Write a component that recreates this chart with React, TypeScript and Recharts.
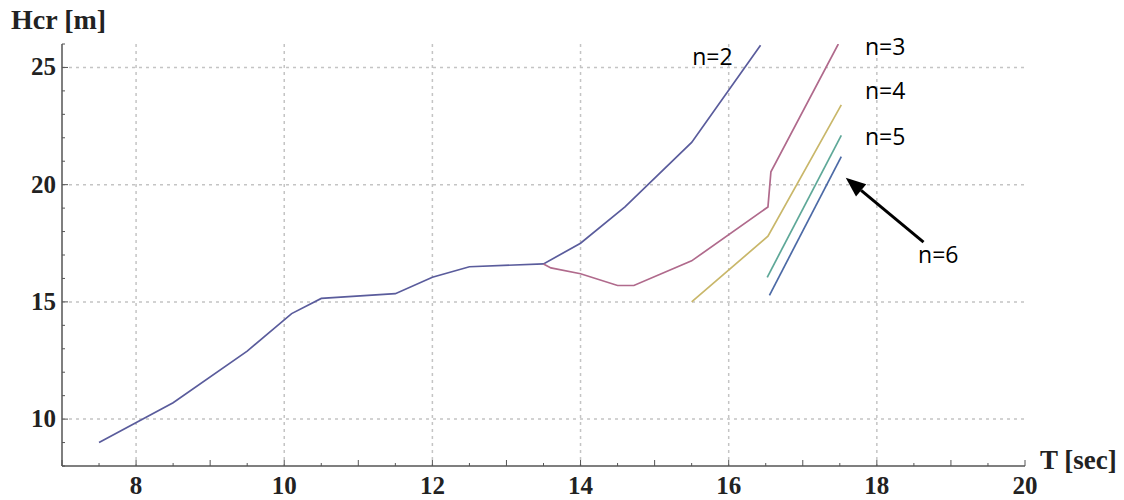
import {
  LineChart,
  Line,
  XAxis,
  YAxis,
  CartesianGrid,
  ReferenceDot,
  ReferenceLine,
} from "recharts";

// critical height vs period, one curve per n
const N2_T = [7.5, 8.5, 9.5, 10.1, 10.5, 11.5, 12, 12.5, 13.5, 14, 14.6, 15.5, 16.43];
const N2_H = [9.0, 10.7, 12.9, 14.5, 15.15, 15.35, 16.05, 16.5, 16.62, 17.5, 19.05, 21.8, 25.95];

const N3_T = [13.5, 13.6, 14, 14.5, 14.72, 15.5, 16.53, 16.57, 17.48];
const N3_H = [16.62, 16.45, 16.2, 15.7, 15.7, 16.75, 19.05, 20.55, 26.0];

const N4_T = [15.5, 16.53, 17.52];
const N4_H = [15.0, 17.8, 23.4];

const N5_T = [16.52, 17.52];
const N5_H = [16.05, 22.1];

const N6_T = [16.55, 17.52];
const N6_H = [15.28, 21.2];

const X_TICKS = [7, 7.5, 8, 8.5, 9, 9.5, 10, 10.5, 11, 11.5, 12, 12.5, 13, 13.5, 14, 14.5, 15, 15.5, 16, 16.5, 17, 17.5, 18, 18.5, 19, 19.5, 20];
const X_LABELS = [8, 10, 12, 14, 16, 18, 20];
const Y_TICKS = [8, 9, 10, 11, 12, 13, 14, 15, 16, 17, 18, 19, 20, 21, 22, 23, 24, 25, 26];
const Y_LABELS = [10, 15, 20, 25];
const X_GRID = [8, 10, 12, 14, 16, 18];

const zip = (t: number[], h: number[]) => t.map((v, i) => ({ t: v, h: h[i] }));

const SERIES = [
  { name: "n=2", data: zip(N2_T, N2_H), color: "#5a5c9c" },
  { name: "n=3", data: zip(N3_T, N3_H), color: "#b06a8c" },
  { name: "n=4", data: zip(N4_T, N4_H), color: "#c9b76a" },
  { name: "n=5", data: zip(N5_T, N5_H), color: "#5ea898" },
  { name: "n=6", data: zip(N6_T, N6_H), color: "#4c6aa6" },
];

// curve labels placed in data coordinates
const NOTES = [
  { text: "n=2", t: 15.78, h: 25.45, pos: "center" },
  { text: "n=3", t: 17.84, h: 25.9, pos: "right" },
  { text: "n=4", t: 17.84, h: 24.0, pos: "right" },
  { text: "n=5", t: 17.84, h: 22.05, pos: "right" },
  { text: "n=6", t: 18.83, h: 17.0, pos: "center" },
];

const ARROW_FROM = { x: 18.63, y: 17.55 };
const ARROW_TO = { x: 17.58, y: 20.3 };

const TICK_FONT = "'Liberation Serif', 'Times New Roman', serif";
const NOTE_FONT = "'Open Sans', 'Noto Sans', sans-serif";

const XTick = (props: any) => {
  const { x, y, payload } = props;
  const major = Number.isInteger(payload.value);
  const labelled = X_LABELS.includes(payload.value);
  return (
    <g>
      <line x1={x} x2={x} y1={y} y2={y - (major ? 6 : 3)} stroke="#555" strokeWidth={1} />
      {labelled && (
        <text
          x={x}
          y={y + 28}
          textAnchor="middle"
          fontFamily={TICK_FONT}
          fontWeight="bold"
          fontSize={25}
          fill="#222"
        >
          {payload.value}
        </text>
      )}
    </g>
  );
};

const YTick = (props: any) => {
  const { x, y, payload } = props;
  const labelled = Y_LABELS.includes(payload.value);
  return (
    <g>
      <line x1={x} x2={x + (labelled ? 6 : 3)} y1={y} y2={y} stroke="#555" strokeWidth={1} />
      {labelled && (
        <text
          x={x - 6}
          y={y + 8}
          textAnchor="end"
          fontFamily={TICK_FONT}
          fontWeight="bold"
          fontSize={25}
          fill="#222"
        >
          {payload.value}
        </text>
      )}
    </g>
  );
};

const Arrow = (props: any) => {
  const { x1, y1, x2, y2 } = props;
  const a = Math.atan2(y2 - y1, x2 - x1);
  const len = 20;
  const w = 8;
  const bx = x2 - len * Math.cos(a);
  const by = y2 - len * Math.sin(a);
  const px = -Math.sin(a) * w;
  const py = Math.cos(a) * w;
  return (
    <g>
      <line x1={x1} y1={y1} x2={bx} y2={by} stroke="#000" strokeWidth={3} />
      <polygon points={`${x2},${y2} ${bx + px},${by + py} ${bx - px},${by - py}`} fill="#000" />
    </g>
  );
};

export default function App() {
  return (
    <div style={{ position: "absolute", left: 0, top: 0, width: 1124, height: 500, background: "#fff" }}>
      <LineChart width={1124} height={500} margin={{ top: 44, right: 99, bottom: 4, left: 7 }}>
        <CartesianGrid
          horizontalValues={Y_LABELS}
          verticalValues={X_GRID}
          stroke="#c4c4c4"
          strokeDasharray="3 4"
          strokeWidth={1.5}
        />
        <XAxis
          type="number"
          dataKey="t"
          domain={[7, 20]}
          ticks={X_TICKS}
          interval={0}
          height={30}
          tickSize={0}
          tickMargin={0}
          tickLine={false}
          tick={<XTick />}
          axisLine={{ stroke: "#555", strokeWidth: 1.5 }}
          allowDataOverflow
        />
        <YAxis
          type="number"
          dataKey="h"
          domain={[8, 26]}
          ticks={Y_TICKS}
          interval={0}
          width={55}
          tickSize={0}
          tickMargin={0}
          tickLine={false}
          tick={<YTick />}
          axisLine={{ stroke: "#555", strokeWidth: 1.5 }}
          allowDataOverflow
        />
        {SERIES.map((s) => (
          <Line
            key={s.name}
            data={s.data}
            dataKey="h"
            type="linear"
            stroke={s.color}
            strokeWidth={1.7}
            dot={false}
            isAnimationActive={false}
          />
        ))}
        {NOTES.map((n) => (
          <ReferenceDot
            key={n.text}
            x={n.t}
            y={n.h}
            r={0}
            fill="none"
            stroke="none"
            ifOverflow="visible"
            label={{
              value: n.text,
              position: n.pos as any,
              offset: 0,
              fontFamily: NOTE_FONT,
              fontSize: 23,
              fill: "#000",
            }}
          />
        ))}
        <ReferenceLine segment={[ARROW_FROM, ARROW_TO]} ifOverflow="visible" shape={<Arrow />} />
      </LineChart>
      <div
        style={{
          position: "absolute",
          left: 11,
          top: 4,
          fontFamily: TICK_FONT,
          fontWeight: "bold",
          fontSize: 28,
          color: "#222",
          lineHeight: "32px",
        }}
      >
        Hcr [m]
      </div>
      <div
        style={{
          position: "absolute",
          left: 1040,
          top: 444,
          fontFamily: TICK_FONT,
          fontWeight: "bold",
          fontSize: 27,
          color: "#222",
          lineHeight: "32px",
        }}
      >
        T [sec]
      </div>
    </div>
  );
}
